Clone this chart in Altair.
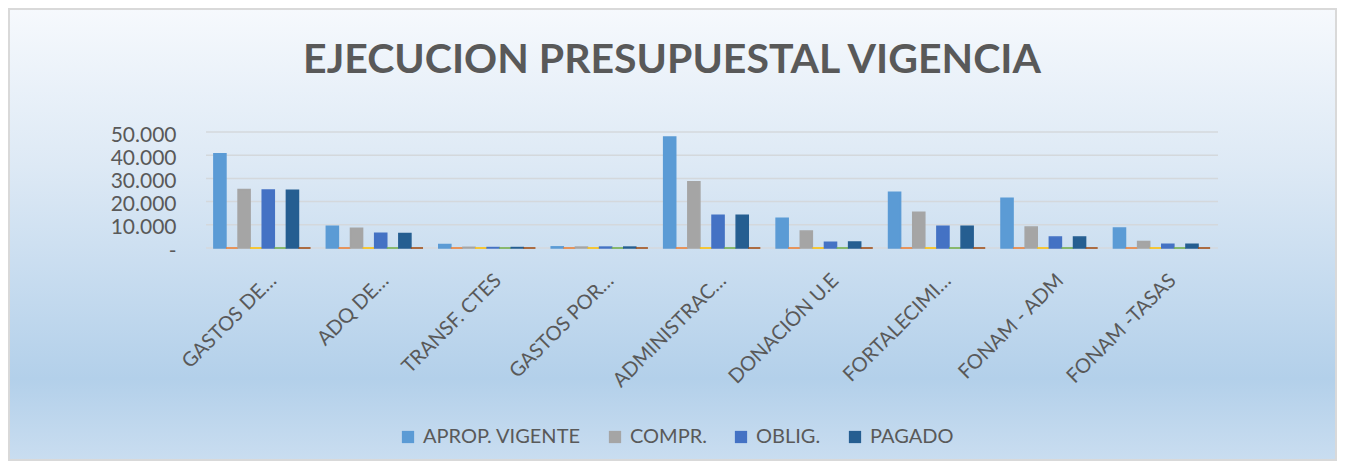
import altair as alt
import pandas as pd

categories = ["GASTOS DE…", "ADQ DE…", "TRANSF. CTES", "GASTOS POR…", "ADMINISTRAC…",
              "DONACIÓN U.E", "FORTALECIMI…", "FONAM - ADM", "FONAM -TASAS"]
series = ["APROP. VIGENTE", "Serie 2", "COMPR.", "Serie 4", "OBLIG.", "Serie 6", "PAGADO", "Serie 8"]
legend_series = ["APROP. VIGENTE", "COMPR.", "OBLIG.", "PAGADO"]
colors = ["#5B9BD5", "#ED7D31", "#A5A5A5", "#FFC000", "#4472C4", "#70AD47", "#255E91", "#9E480E"]
y_ticks = [0, 10000, 20000, 30000, 40000, 50000]
title_text = ["EJECUCION PRESUPUESTAL VIGENCIA"]

aprop = [40600, 9400, 1500, 500, 47800, 12800, 24000, 21400, 8600]
serie2 = [0, 0, 0, 0, 0, 0, 0, 0, 0]
compr = [25200, 8500, 300, 400, 28600, 7300, 15400, 9000, 2800]
serie4 = [0, 0, 0, 0, 0, 0, 0, 0, 0]
oblig = [25000, 6400, 200, 400, 14100, 2500, 9400, 4700, 1600]
serie6 = [0, 0, 0, 0, 0, 0, 0, 0, 0]
pagado = [24900, 6300, 200, 400, 14100, 2600, 9400, 4700, 1600]
serie8 = [0, 0, 0, 0, 0, 0, 0, 0, 0]

values = [aprop, serie2, compr, serie4, oblig, serie6, pagado, serie8]
rows = []
for s, vals in zip(series, values):
    for c, v in zip(categories, vals):
        rows.append({"categoria": c, "serie": s, "valor": v})
df = pd.DataFrame(rows)

FONT = "Lato"
TXT = "#595959"

bg = alt.Chart(pd.DataFrame({"a": [0]})).mark_rect(
    fill=alt.Gradient(
        gradient="linear",
        stops=[
            alt.GradientStop(offset=0, color="#f6f9fd"),
            alt.GradientStop(offset=0.35, color="#dde9f5"),
            alt.GradientStop(offset=0.82, color="#b3d0ea"),
            alt.GradientStop(offset=1, color="#c9ddf0"),
        ],
        x1=0, x2=0, y1=0, y2=1,
    ),
    stroke="#d9d9d9", strokeWidth=2,
).encode(
    x=alt.value(-197), x2=alt.value(1130),
    y=alt.value(-123), y2=alt.value(328),
)

y_axis = alt.Axis(values=y_ticks,
                  labelExpr="datum.value == 0 ? '-' : replace(format(datum.value, ',.0f'), ',', '.')",
                  labelFont=FONT, labelFontSize=21, labelColor=TXT, labelPadding=30,
                  labelOffset=3, labelOverlap=False, labelBound=False, domain=False, ticks=False,
                  grid=False, zindex=1)
y_scale = alt.Scale(domain=[0, 50000], nice=False)

grid = alt.Chart(pd.DataFrame({"valor": y_ticks})).mark_rule(
    color="#d4d8dc", strokeWidth=1.5
).encode(y=alt.Y("valor:Q", title=None, scale=y_scale, axis=y_axis))

color_scale = alt.Scale(domain=series, range=colors)

bars = alt.Chart(df).mark_bar(strokeWidth=1.5).encode(
    x=alt.X("categoria:N", sort=categories, title=None,
            scale=alt.Scale(paddingInner=0.14, paddingOuter=0.07),
            axis=alt.Axis(labelAngle=-45, labelFont=FONT, labelFontSize=20, labelColor=TXT,
                          domain=False, ticks=False, labelPadding=22, labelLimit=300,
                          labelOffset=4, zindex=1)),
    xOffset=alt.XOffset("serie:N", sort=series, scale=alt.Scale(paddingInner=0, paddingOuter=0)),
    y=alt.Y("valor:Q", title=None, scale=y_scale, axis=y_axis),
    color=alt.Color("serie:N", scale=color_scale,
                    legend=alt.Legend(values=legend_series, title=None, orient="none",
                                      direction="horizontal", legendX=192, legendY=295,
                                      symbolType="square", symbolSize=150, symbolStrokeWidth=0,
                                      labelFont=FONT, labelFontSize=20, labelColor=TXT,
                                      columnPadding=24, labelOffset=5)),
    stroke=alt.Stroke("serie:N", scale=color_scale, legend=None),
)

title = alt.Chart(pd.DataFrame({"t": title_text})).mark_text(
    font=FONT, fontSize=41, fontWeight="bold", color=TXT, align="center", baseline="alphabetic"
).encode(text="t:N", x=alt.value(466), y=alt.value(-59))

chart = alt.layer(bg, grid, bars, title).properties(
    width=1012, height=116,
    autosize=alt.AutoSizeParams(type="none"),
    padding={"left": 198, "top": 124, "right": 119, "bottom": 214},
).configure_view(stroke=None).configure_axis(labelOverlap=False)

chart.save("out.html", embed_options={"renderer": "svg", "actions": False})
